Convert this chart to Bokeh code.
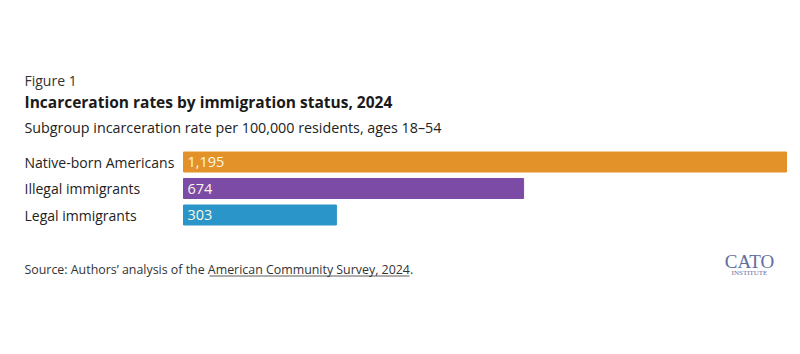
from bokeh.plotting import figure
from bokeh.models import Range1d, Label, ColumnDataSource
from bokeh.core.properties import value
from bokeh.embed import file_html
from bokeh.resources import INLINE

categories = ["Native-born Americans", "Illegal immigrants", "Legal immigrants"]
rates = [1195, 674, 303]
rate_labels = ["1,195", "674", "303"]
colors = ["#E3922A", "#7B4BA6", "#2A95C9"]

W, H = 800, 354
bar_left_px = 183
bar_right_px = 786
k = rates[0] / (bar_right_px - bar_left_px)  # data units per px

p = figure(width=W, height=H, output_backend="svg", toolbar_location=None,
           x_range=Range1d(-bar_left_px * k, (W - bar_left_px) * k),
           y_range=Range1d(H, 0), min_border=0,
           min_border_left=0, min_border_right=0, min_border_top=0, min_border_bottom=0)
p.axis.visible = False
p.grid.visible = False
p.outline_line_color = None
p.background_fill_color = "white"
p.border_fill_color = "white"

FONT = "Open Sans"
ys = [161.5 + 26.5 * i for i in range(len(categories))]
src = ColumnDataSource(dict(cat=categories, rate=rates, lab=rate_labels, color=colors, y=ys,
                            lx=[-(bar_left_px - 24) * k] * len(categories),
                            vx=[4 * k] * len(categories)))
p.hbar(y="y", left=0, right="rate", height=20, color="color", source=src)
p.text(x="lx", y="y", text="cat", source=src, text_font=value(FONT), text_font_size="14px",
       text_color="#222222", text_baseline="middle", text_align="left")
p.text(x="vx", y="y", text="lab", source=src, text_font=value(FONT), text_font_size="14.5px",
       text_color="#FFF6E0", text_baseline="middle", text_align="left", text_font_style="normal")

def lab(text, x, y, size, style="normal", color="#222222", font=FONT, align="left"):
    p.add_layout(Label(x=x, y=H - y, x_units="screen", y_units="screen", text=text,
                       text_font=font, text_font_size=size, text_font_style=style,
                       text_color=color, text_baseline="alphabetic", text_align=align))

lab("Figure 1", 24, 80, "14px", color="#333333")
lab("Incarceration rates by immigration status, 2024", 24, 101, "15.5px", style="bold", color="#1a1a1a")
lab("Subgroup incarceration rate per 100,000 residents, ages 18\u201354", 24, 127, "14.3px", color="#222222")
lab("Source: Authors\u2019 analysis of the American Community Survey, 2024.", 24, 269, "12.4px", color="#333333")
p.segment(x0=[(209 - bar_left_px) * k], x1=[(409 - bar_left_px) * k], y0=[275.5], y1=[275.5],
          line_color="#333333", line_width=0.8)
lab("CATO", 749, 261, "19px", color="#5F6C9E", font="Liberation Serif", align="center")
lab("INSTITUTE", 749, 272, "7px", color="#5F6C9E", font="Liberation Serif", align="center")

open("out.html", "w").write(file_html(p, INLINE))
